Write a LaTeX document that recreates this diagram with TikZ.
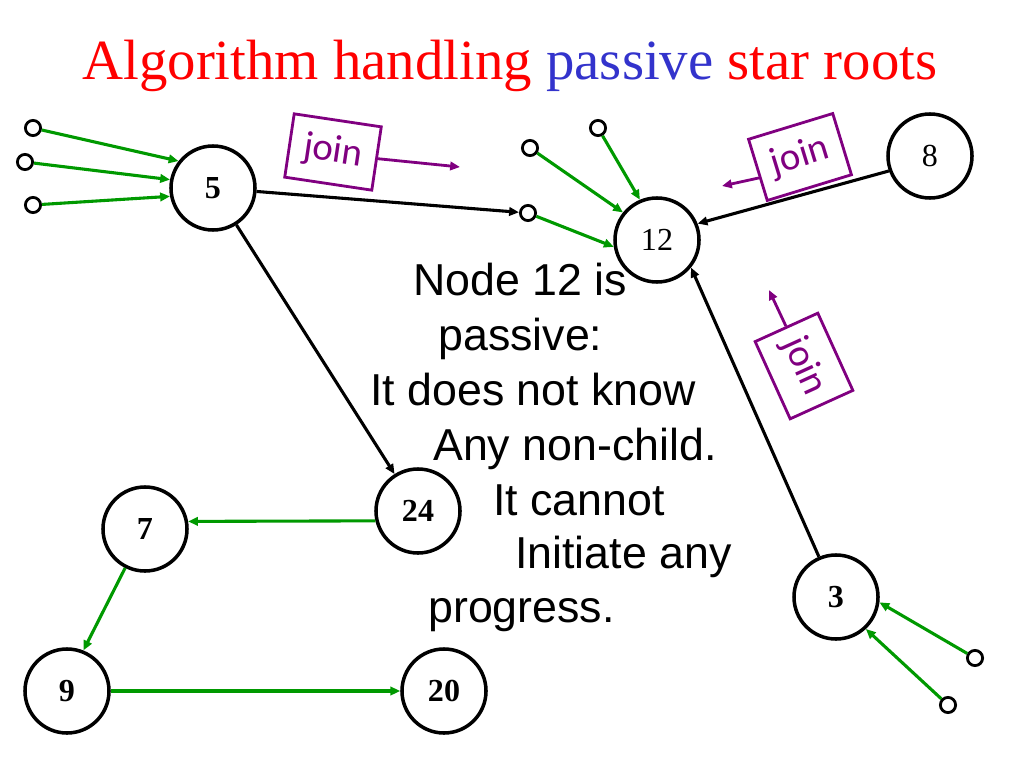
\documentclass[tikz,border=0pt]{standalone}
\usepackage{fontspec}
\setmainfont{Liberation Serif}
\newfontfamily\notefont{Liberation Sans}
\newfontfamily\joinfont{Carlito}
\usetikzlibrary{arrows.meta}

\definecolor{starRed}{HTML}{FF0000}
\definecolor{starBlue}{HTML}{3333CC}
\definecolor{starGreen}{HTML}{009900}
\definecolor{starPurple}{HTML}{800080}

\begin{document}
\begin{tikzpicture}[x=0.025cm,y=-0.025cm,
  bignode/.style={circle,draw,line width=2.5pt,minimum size=2.1cm,inner sep=0pt,
    font=\fontsize{22.8}{24}\selectfont},
  leaf/.style={circle,draw,line width=2pt,minimum size=0.38cm,inner sep=0pt},
  joinbox/.style={draw=starPurple,line width=2pt,minimum width=2.2cm,minimum height=1.6cm,
    inner sep=0pt,text=starPurple,font=\joinfont\fontsize{27.7}{30}\selectfont},
  note/.style={inner sep=0pt,font=\notefont\fontsize{31.8}{36}\selectfont},
  tree/.style={starGreen,line width=2.2pt,-{Triangle[length=7pt,width=6pt]}},
  link/.style={black,line width=2.2pt,-{Triangle[length=7pt,width=6pt]}},
  msg/.style={starPurple,line width=2pt,-{Triangle[length=7pt,width=6pt]}}]
  \useasboundingbox (0,0) rectangle (1024,768);

  \node[anchor=base,font=\fontsize{40.4}{48}\selectfont] (title) at (510,80)
    {\textcolor{starRed}{Algorithm handling} \textcolor{starBlue}{passive} \textcolor{starRed}{star roots}};

  % star roots and trees
  \node[bignode] (n5) at (213,188) {\textbf{5}};
  \node[bignode] (n12) at (657,240) {12};
  \node[bignode] (n8) at (930,156) {8};
  \node[bignode] (n24) at (418,511) {\textbf{24}};
  \node[bignode] (n7) at (145,529) {\textbf{7}};
  \node[bignode] (n9) at (67,691) {\textbf{9}};
  \node[bignode] (n20) at (444,691) {\textbf{20}};
  \node[bignode] (n3) at (836,597) {\textbf{3}};

  % leaves
  \node[leaf] (a1) at (33,128) {};
  \node[leaf] (a2) at (25,162) {};
  \node[leaf] (a3) at (33,205) {};
  \node[leaf] (b1) at (530,148) {};
  \node[leaf] (b2) at (598,128) {};
  \node[leaf] (b3) at (528,213) {};
  \node[leaf] (c1) at (975,658) {};
  \node[leaf] (c2) at (948,705) {};

  \draw[tree] (a1) -- (n5.142);
  \draw[tree] (a2) -- (n5.169);
  \draw[tree] (a3) -- (n5.191);
  \draw[tree] (b1) -- (n12.141);
  \draw[tree] (b2) -- (n12.113);
  \draw[tree] (b3) -- (n12.189);
  \draw[tree] (c1) -- (n3.353);
  \draw[tree] (c2) -- (n3.313);
  \draw[tree] (n24.193) -- (n7.10);
  \draw[tree] (n7.243) -- (n9.68);
  \draw[tree] (n9) -- (n20);

  \draw[link] (n5) -- (b3);
  \draw[link] (n5) -- (n24);
  \draw[link] (n8.200) -- (n12.22);
  \draw[link] (n3.113) -- (n12.321);

  % join messages
  \node[joinbox,rotate=-8.5] (j1) at (333,152) {join};
  \node[joinbox,rotate=17] (j2) at (800,157) {join};
  \node[joinbox,rotate=-65.6,minimum width=2.12cm,minimum height=1.72cm] (j3) at (804,366) {join};
  \coordinate (j1t) at (460,167);
  \coordinate (j2t) at (722,186);
  \coordinate (j3t) at (769,290);
  \draw[msg] (j1.east) -- (j1t);
  \draw[msg] (j2.190) -- (j2t);
  \draw[msg] (j3.west) -- (j3t);

  % the passive node
  \foreach \tx/\ty/\txt [count=\i] in {413/295/{Node 12 is}, 438/350/{passive:},
      370/405/{It does not know}, 433/460/{Any non-child.}, 493/515/{It cannot},
      515/568/{Initiate any}, 428/622/{progress.}}
    \node[note,anchor=base west] (note\i) at (\tx,\ty) {\txt};
\end{tikzpicture}
\end{document}
